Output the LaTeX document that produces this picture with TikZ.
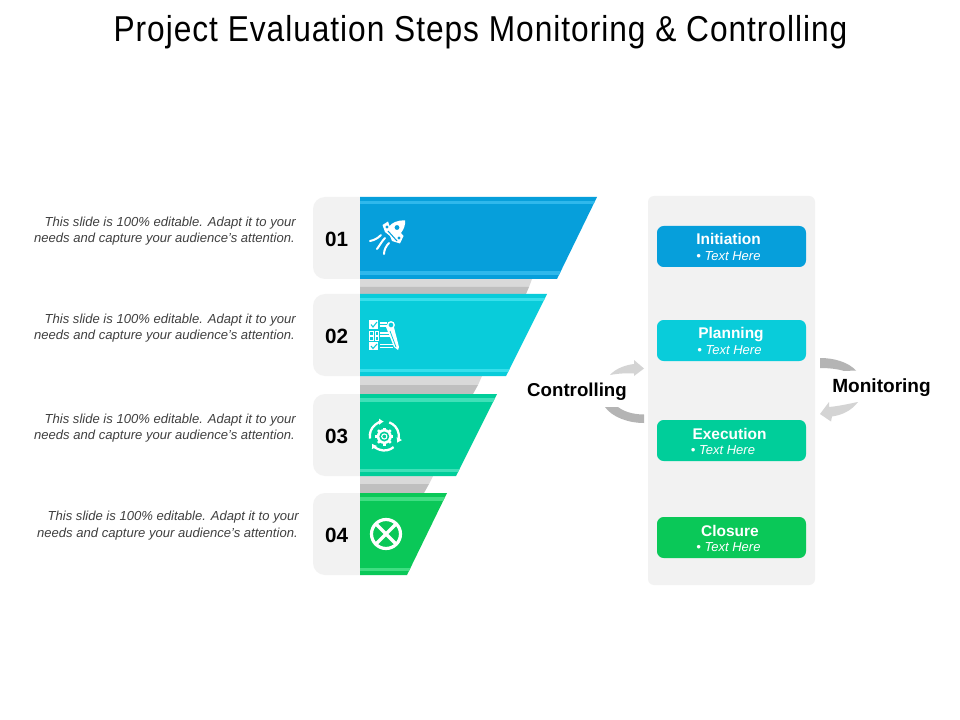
\documentclass[tikz,border=0pt]{standalone}
\usepackage{fontspec}
\usetikzlibrary{arrows.meta}
\setmainfont{Liberation Sans}
\newfontfamily\titlefont[FakeStretch=0.88,LetterSpace=2.7]{Liberation Sans}
\definecolor{cblue}{HTML}{069FDB}\definecolor{sblue}{HTML}{2FB8EC}
\definecolor{ccyan}{HTML}{09CCDA}\definecolor{scyan}{HTML}{38DFEB}
\definecolor{cteal}{HTML}{00CE9A}\definecolor{steal}{HTML}{40E0B8}
\definecolor{cgreen}{HTML}{0AC858}\definecolor{sgreen}{HTML}{40DE82}
\definecolor{panel}{HTML}{F2F2F2}\definecolor{glight}{HTML}{D9D9D9}\definecolor{gdark}{HTML}{BFBFBF}
\definecolor{arrowlight}{HTML}{D4D4D4}\definecolor{arrowdark}{HTML}{B4B4B4}
\definecolor{bodytext}{HTML}{404040}
\tikzset{
  body/.style={inner sep=0pt,anchor=east,text=bodytext,font=\fontsize{9.8}{12}\selectfont\itshape},
  num/.style={inner sep=0pt,font=\fontsize{15.5}{18}\selectfont\bfseries,text=black},
  side/.style={inner sep=0pt,font=\fontsize{14}{17}\selectfont\bfseries,text=black},
  phase/.style={fill=#1,draw=none,rounded corners=5pt,minimum width=111.75pt,minimum height=30.75pt,inner sep=0pt},
  boxhead/.style={inner sep=0pt,anchor=base,text=white,font=\fontsize{11.6}{14}\selectfont\bfseries},
  boxsub/.style={inner sep=0pt,anchor=base,text=white,font=\fontsize{9.75}{12}\selectfont\itshape},
  iconline/.style={draw=white,line width=1.5pt,line cap=round},
  cyc/.style={draw=white,line width=1.7pt,-{Latex[length=3.5pt,width=5pt]}},
}
\newcommand{\funnelrow}[6]{%
  \fill[#5] (360,#1) -- (#3,#1) -- (#4,#2) -- (360,#2) -- cycle;
  \begin{scope}
    \clip (360,#1) -- (#3,#1) -- (#4,#2) -- (360,#2) -- cycle;
    \fill[#6] (360,#1+4) rectangle (620,#1+7.5);
    \fill[#6] (360,#2-7.5) rectangle (620,#2-4);
  \end{scope}}
\newcommand{\grayband}[6]{%
  \fill[glight] (360,#1) -- (#4,#1) -- (#5,#2) -- (360,#2) -- cycle;
  \fill[gdark] (360,#2) -- (#5,#2) -- (#6,#3) -- (360,#3) -- cycle;}
\begin{document}
\begin{tikzpicture}[x=0.75pt,y=-0.75pt]
\useasboundingbox (0,0) rectangle (960,720);
\fill[white] (0,0) rectangle (960,720);
\node[inner sep=0pt,anchor=base,text=black,font=\titlefont\fontsize{27}{32}\selectfont] (title) at (480.5,42) {Project Evaluation Steps Monitoring \& Controlling};

% left tabs
\fill[panel,rounded corners=9pt] (313,197) rectangle (375,279);
\fill[panel,rounded corners=9pt] (313,294) rectangle (375,376);
\fill[panel,rounded corners=9pt] (313,394) rectangle (375,476);
\fill[panel,rounded corners=9pt] (313,493) rectangle (375,575);

% gray bands
\grayband{279}{287}{294}{532}{529}{526}
\grayband{376}{385}{394}{482}{478}{473}
\grayband{476}{484}{493}{433}{429}{424}

% funnel
\funnelrow{197}{279}{597}{557}{cblue}{sblue}
\funnelrow{294}{376}{547}{506}{ccyan}{scyan}
\funnelrow{394}{476}{497}{456}{cteal}{steal}
\funnelrow{493}{575}{447}{407}{cgreen}{sgreen}

\node[num] (n1) at (336.5,239) {01};
\node[num] (n2) at (336.5,336) {02};
\node[num] (n3) at (336.5,436) {03};
\node[num] (n4) at (336.5,535) {04};

% body texts
\node[body] (t1a) at (296,223) {This slide is 100\% editable. Adapt it to your};
\node[body] (t1b) at (295,239.5) {needs and capture your audience's attention.};
\node[body] (t2a) at (296,320) {This slide is 100\% editable. Adapt it to your};
\node[body] (t2b) at (295,336.5) {needs and capture your audience's attention.};
\node[body] (t3a) at (296,420) {This slide is 100\% editable. Adapt it to your};
\node[body] (t3b) at (295,436.5) {needs and capture your audience's attention.};
\node[body] (t4a) at (299,517.5) {This slide is 100\% editable. Adapt it to your};
\node[body] (t4b) at (298,534) {needs and capture your audience's attention.};

% rocket icon
\fill[white] (405,220.5) .. controls (397,220) and (392,223) .. (389.5,226)
  -- (388,221.5) -- (382.5,225) -- (385,232) -- (390,236) -- (392,241) -- (400,243.5) -- (403.5,236) -- (401,233)
  .. controls (404,229) and (405.5,225) .. (405,220.5) -- cycle;
\fill[cblue] (397,227.5) circle (2.4);
\fill[cblue] (387,227) circle (1.6);
\fill[cblue] (399,238) circle (1.6);
\draw[cblue,line width=.8pt] (388,231) -- (397,241);
\draw[iconline] (370,241) .. controls (375,240) and (378,238) .. (381,235);
\draw[iconline] (377,249) .. controls (380,245) and (382,241) .. (385,238);
\draw[iconline] (384,254) .. controls (384,250) and (386,246) .. (389,243);

% checklist icon
\fill[white] (369,320) rectangle (378,329);
\draw[ccyan,line width=.8pt] (371,324.5) -- (373,327) -- (377,322);
\draw[white,line width=.7pt] (369.5,331) rectangle (373,335) (375,331) rectangle (378.5,335)
  (369.5,336.5) rectangle (373,340.5) (375,336.5) rectangle (378.5,340.5);
\fill[white] (369,342) rectangle (378,350);
\draw[ccyan,line width=.8pt] (371,346) -- (373,348.5) -- (377,344);
\draw[white,line width=.8pt] (379.5,323) -- (387,323) (379.5,326) -- (388,326)
  (380,333) -- (390,333) (380,336) -- (391,336) (380,344.5) -- (393,344.5) (380,347.5) -- (393,347.5);
\fill[white] (386,327) -- (393,323.5) -- (399,347) -- (398,350) -- (394,347) -- cycle;
\draw[white,line width=1pt,fill=ccyan] (391,325) circle (3.2);
\draw[ccyan,line width=.6pt] (390,331) -- (396,347);

% cycle icon
\draw[cyc] (384.3,436) ++(170:14.5) arc[start angle=170,end angle=268,radius=14.5];
\draw[cyc] (384.3,436) ++(290:14.5) arc[start angle=290,end angle=388,radius=14.5];
\draw[cyc] (384.3,436) ++(50:14.5) arc[start angle=50,end angle=148,radius=14.5];
\foreach \a in {0,45,...,315}{\draw[white,line width=1.8pt] (384.3,436.5) -- ++(\a:9);}
\fill[white] (384.3,436.5) circle (7.5);
\fill[cteal] (384.3,436.5) circle (5);
\draw[white,line width=.8pt] (384.3,436.5) circle (2.6);

% cross icon
\draw[white,line width=2.4pt] (386,534) circle (14.5);
\draw[white,line width=2.4pt] (386,534) ++(45:14.5) -- ++(225:29) (386,534) ++(135:14.5) -- ++(315:29);

% right panel
\node[fill=panel,rounded corners=4.5pt,minimum width=125.25pt,minimum height=291.75pt,inner sep=0pt] (panelbg) at (731.5,390.5) {};
\node[phase=cblue] (b1) at (731.5,246.5) {};
\node[phase=ccyan] (b2) at (731.5,340.5) {};
\node[phase=cteal] (b3) at (731.5,440.5) {};
\node[phase=cgreen] (b4) at (731.5,537.5) {};
\node[boxhead] (h1) at (728.5,245) {Initiation};
\node[boxsub]  (s1) at (728.5,260.7) {• Text Here};
\node[boxhead] (h2) at (731,339) {Planning};
\node[boxsub]  (s2) at (729.5,354.7) {• Text Here};
\node[boxhead] (h3) at (729.5,439) {Execution};
\node[boxsub]  (s3) at (723,454.7) {• Text Here};
\node[boxhead] (h4) at (730,536) {Closure};
\node[boxsub]  (s4) at (728.5,551.7) {• Text Here};

% controlling arrows
\fill[arrowlight] (610,375) .. controls (615,369) and (625,365) .. (634,364)
  -- (634,360) -- (644,368.5) -- (634,376) -- (634,373.5)
  .. controls (626,373) and (618,373.5) .. (610,375) -- cycle;
\fill[arrowdark] (605,407) .. controls (612,417) and (628,423) .. (644,423)
  -- (644,414.5) .. controls (632,414.5) and (623,411) .. (618,407) -- cycle;
\node[side] (ctrl) at (577,391.5) {Controlling};

% monitoring arrows
\fill[arrowdark] (820,358) .. controls (834,358) and (848,362) .. (856,370.5)
  -- (844,371) .. controls (838,369) and (829,368) .. (820,368) -- cycle;
\fill[arrowlight] (858,402) .. controls (850,403.5) and (840,406) .. (829,407)
  -- (829,402) -- (820,414) -- (831,421.5) -- (832,416.5)
  .. controls (842,415) and (851,411) .. (858,402) -- cycle;
\node[side,font=\fontsize{14.3}{17}\selectfont\bfseries] (mon) at (881.5,387.5) {Monitoring};
\end{tikzpicture}
\end{document}
